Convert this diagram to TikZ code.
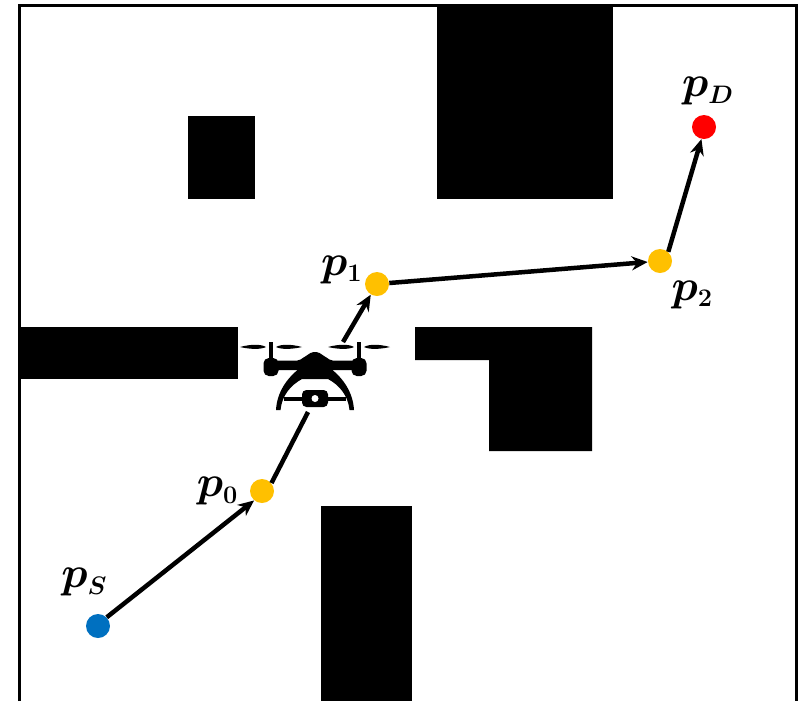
\documentclass[tikz,border=0pt]{standalone}
\usepackage{amsmath,amssymb}
\usepackage{tikz}
\usetikzlibrary{arrows.meta,positioning}
\usepackage{xcolor}
\definecolor{startc}{HTML}{0070C0}
\definecolor{wayc}{HTML}{FFC000}
\definecolor{destc}{HTML}{FF0000}
\DeclareMathSizes{26}{26}{15}{10}

\begin{document}
\begin{tikzpicture}[x=0.02cm, y=-0.02cm,
  obstacle/.style={fill=black},
  dot/.style={circle, inner sep=0pt, minimum size=0.48cm},
  arr/.style={-{Stealth[length=0.32cm, width=0.28cm]}, line width=0.09cm},
  seg/.style={line width=0.09cm},
  lbl/.style={font=\fontsize{26}{30}\selectfont\boldmath, inner sep=0pt}
]
  \useasboundingbox (0,0) rectangle (800,701);
  \fill[white] (0,0) rectangle (800,701);

  % walls and outer frame
  \fill[obstacle] (188,116) rectangle (255,199);
  \fill[obstacle] (437,5) rectangle (613,199);
  \fill[obstacle] (19,327) rectangle (238,379);
  \fill[obstacle] (415,327) -- (592,327) -- (592,451) -- (489,451) -- (489,360) -- (415,360) -- cycle;
  \fill[obstacle] (321,506) rectangle (412,701);
  \draw[line width=0.06cm] (19,701) -- (19,5) -- (796,5) -- (796,701);

  % path points
  \node[dot, fill=startc] (pS) at (98,626) {};
  \node[dot, fill=wayc] (p0) at (262,491) {};
  \node[dot, fill=wayc] (p1) at (377,284) {};
  \node[dot, fill=wayc] (p2) at (660,261) {};
  \node[dot, fill=destc] (pD) at (704,127) {};
  \coordinate (droneb) at (308,412);
  \coordinate (dronet) at (343,342);

  \node[lbl, above left=0.41cm and -0.37cm of pS] (lS) {$p_S$};
  \node[lbl, left=0.22cm of p0] (l0) {$p_0$};
  \node[lbl, above left=-0.18cm and 0.11cm of p1] (l1) {$p_1$};
  \node[lbl, below right=0.21cm and 0.05cm of p2] (l2) {$p_2$};
  \node[lbl, above=0.18cm of pD, xshift=0.08cm] (lD) {$p_D$};

  \draw[arr] (pS.45) -- (p0.230);
  \draw[seg] (p0.40) -- (droneb);
  \draw[arr] (dronet) -- (p1);
  \draw[arr] (p1) -- (p2);
  \draw[arr] (p2.48) -- (pD.258);

  % drone
  \foreach \cx in {271,359} {
    \begin{scope}[shift={(\cx,0)}]
      \fill (-31,347) .. controls (-20,344) and (-10,344) .. (-5,347) .. controls (-10,349.5) and (-20,349.5) .. cycle;
      \fill (31,347) .. controls (20,344) and (10,344) .. (5,347) .. controls (10,349.5) and (20,349.5) .. cycle;
      \fill (-1.6,342) rectangle (1.6,358);
      \fill[rounded corners=3pt] (-7.5,358) rectangle (7.5,376);
    \end{scope}
  }
  \fill[rounded corners=1pt] (275,360.5) -- (299,360.5) -- (312,352) -- (318,352) -- (331,360.5) -- (355,360.5) -- (355,370) -- (275,370) -- cycle;
  \fill (276,410) .. controls (277,392) and (287,378) .. (300,368) -- (330,368)
    .. controls (343,378) and (353,392) .. (354,410) -- (349.5,410)
    .. controls (348,395) and (339,385) .. (328,379) -- (302,379)
    .. controls (291,385) and (282,395) .. (280.5,410) -- cycle;
  \fill (284,396.5) rectangle (346,400.5);
  \fill[rounded corners=2.5pt] (302,390) rectangle (328,407);
  \fill[white] (315,398.5) circle (3.5);
\end{tikzpicture}
\end{document}
